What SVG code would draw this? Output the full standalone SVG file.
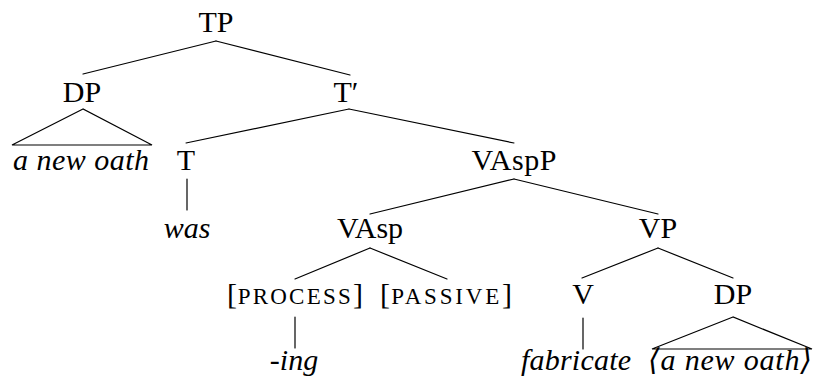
<svg xmlns="http://www.w3.org/2000/svg" width="814" height="383" viewBox="0 0 814 383">
  <style>
    text { font-family: "Liberation Serif", "Times New Roman", "DejaVu Serif", serif; font-size: 30px; fill: #000; text-anchor: middle; }
    .it { font-style: italic; }
    .sc { font-size: 23px; letter-spacing: 1.6px; }
    .edge { stroke: #000; stroke-width: 1.2; fill: none; stroke-linecap: round; }
  </style>
  <rect width="814" height="383" fill="#fff"/>

  <!-- branches -->
  <g id="connectors" class="edge">
    <line x1="216" y1="41" x2="83" y2="74"/>
    <line x1="216" y1="41" x2="350" y2="75"/>
    <polygon points="83,109 12,145 152,145"/>
    <line x1="349" y1="109" x2="186" y2="143"/>
    <line x1="349" y1="109" x2="514" y2="143"/>
    <line x1="187" y1="179" x2="187" y2="210"/>
    <line x1="514" y1="179" x2="370" y2="214"/>
    <line x1="514" y1="179" x2="658" y2="214"/>
    <line x1="370" y1="248" x2="295" y2="279"/>
    <line x1="370" y1="248" x2="447" y2="279"/>
    <line x1="295" y1="317" x2="295" y2="348"/>
    <line x1="658" y1="248" x2="582" y2="278"/>
    <line x1="658" y1="248" x2="733" y2="278"/>
    <line x1="583" y1="318" x2="583" y2="349"/>
    <polygon points="733,317 652,349 812,349"/>
  </g>

  <!-- nodes -->
  <g id="TP"><text x="216" y="32">TP</text></g>
  <g id="DP-subject"><text x="82" y="102">DP</text></g>
  <g id="DP-subject-yield"><text class="it" x="81" y="170" textLength="136" lengthAdjust="spacing">a new oath</text></g>
  <g id="Tbar"><text x="346" y="102">T′</text></g>
  <g id="T"><text x="186" y="170">T</text></g>
  <g id="T-yield"><text class="it" x="187" y="238">was</text></g>
  <g id="VAspP"><text x="514" y="170" textLength="85" lengthAdjust="spacing">VAspP</text></g>
  <g id="VAsp"><text x="370" y="238">VAsp</text></g>
  <g id="feature-process"><text x="295" y="304" textLength="136" lengthAdjust="spacing">[<tspan class="sc">PROCESS</tspan>]</text></g>
  <g id="process-yield"><text class="it" x="294" y="370">-ing</text></g>
  <g id="feature-passive"><text x="446" y="304" textLength="132" lengthAdjust="spacing">[<tspan class="sc">PASSIVE</tspan>]</text></g>
  <g id="VP"><text x="658" y="238">VP</text></g>
  <g id="V"><text x="583" y="304">V</text></g>
  <g id="V-yield"><text class="it" x="576" y="370" textLength="110" lengthAdjust="spacing">fabricate</text></g>
  <g id="DP-object"><text x="733" y="304">DP</text></g>
  <g id="DP-object-yield"><text class="it" x="730" y="370" textLength="164" lengthAdjust="spacing">⟨a new oath⟩</text></g>
</svg>
